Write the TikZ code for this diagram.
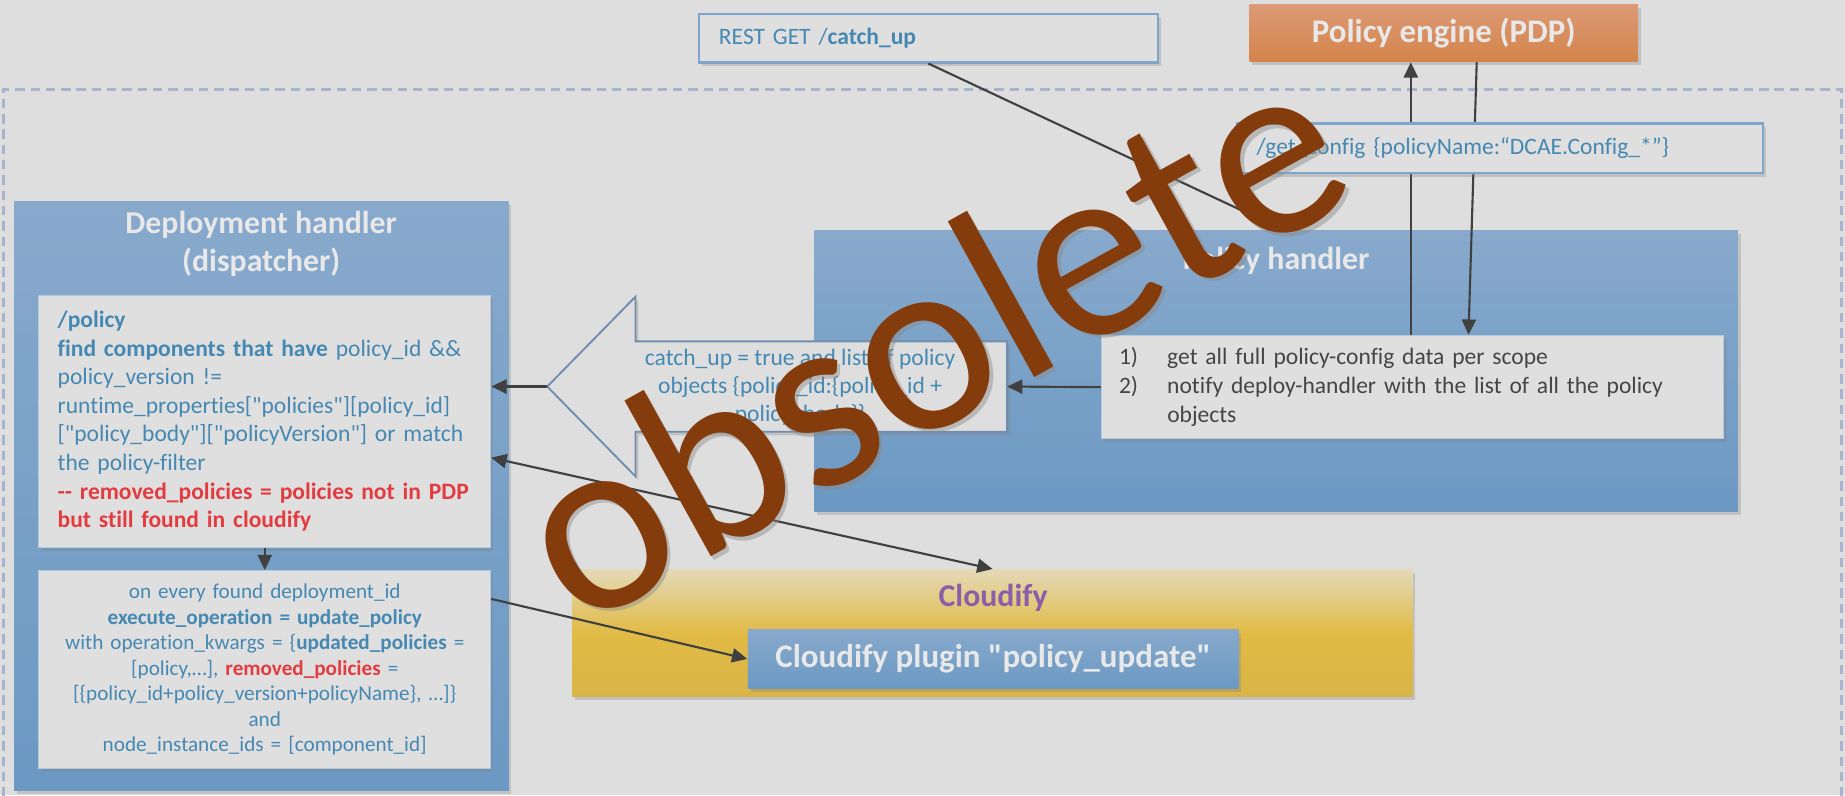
\documentclass[tikz,border=0pt]{standalone}
\usepackage{fontspec}
\setmainfont{Carlito}[Ligatures={TeXOff,CommonOff}]
\usepackage{xcolor}
\usepackage{tikz}
\usetikzlibrary{arrows.meta, shadows}

\definecolor{bggray}{HTML}{DFDEDF}
\definecolor{boxgray}{HTML}{E0DFE0}
\definecolor{bluetop}{HTML}{88A9CC}
\definecolor{bluebot}{HTML}{6B99C3}
\definecolor{txtblue}{HTML}{4588B2}
\definecolor{txtred}{HTML}{E23B40}
\definecolor{txtdark}{HTML}{454545}
\definecolor{titlegray}{HTML}{E8E8E8}
\definecolor{edgeblue}{HTML}{7FA5CC}
\definecolor{calloutedge}{HTML}{6F8EAD}
\definecolor{framedash}{HTML}{A8B3CE}
\definecolor{pdptop}{HTML}{DC9A76}
\definecolor{pdpbot}{HTML}{D4844A}
\definecolor{cfytop}{HTML}{E4D9B8}
\definecolor{cfymid}{HTML}{E1BB45}
\definecolor{cfybot}{HTML}{D9B447}
\definecolor{cfypurple}{HTML}{8C5EAA}
\definecolor{stampbrown}{HTML}{843C0C}
\definecolor{stampshade}{HTML}{8A8A8A}
\definecolor{linegray}{HTML}{404040}

\begin{document}
\begin{tikzpicture}[x=0.5pt, y=-0.5pt]
\tikzstyle{shade}=[drop shadow={shadow xshift=1.2pt, shadow yshift=-1.5pt, opacity=.3}]
\tikzstyle{bluebox}=[shade, top color=bluetop, bottom color=bluebot, draw=none, inner sep=0pt]
\tikzstyle{notebox}=[shade, fill=boxgray, draw=edgeblue!60, line width=.5pt, inner sep=0pt]
\tikzstyle{callbox}=[shade, fill=boxgray, draw=edgeblue, line width=1pt, inner sep=0pt]
\tikzstyle{title}=[text=titlegray, font=\fontsize{13.5}{16.25}\selectfont\bfseries, align=center]
\tikzstyle{conn}=[draw=linegray, line width=.9pt]
\tikzstyle{arr}=[conn, -{Triangle[length=6.5pt, width=6pt]}]
\tikzstyle{stamptext}=[rotate=29, anchor=base, font=\fontsize{109}{109}\selectfont]
\useasboundingbox (0,0) rectangle (1568,676);
\clip (0,0) rectangle (1568,676);

\fill[bggray] (0,0) rectangle (1568,676);
\draw[framedash, line width=1pt, dash pattern=on 4pt off 2.5pt] (3,690) -- (3,76) -- (1565,76) -- (1565,690);

\node[bluebox, minimum width=210pt, minimum height=250.5pt] (dh) at (222,421.5) {};
\node[title] (dhtitle) at (222,207) {Deployment handler\\(dispatcher)};
\node[notebox, minimum width=192pt, minimum height=107pt, text width=176pt, align=left,
  text=txtblue, font=\fontsize{10}{12.15}\selectfont] (dhpolicy) at (225,358) {%
{\bfseries /policy}\\
{\bfseries find components that have} policy\_id \&\&\\
policy\_version !=\\
runtime\_properties["policies"][policy\_id]\\
{}["policy\_body"]["policyVersion"] or match\\
the policy-filter\\
{\color{txtred}\bfseries -{}- removed\_policies = policies not in PDP}\\
{\color{txtred}\bfseries but still found in cloudify}};
\node[notebox, minimum width=192pt, minimum height=84pt, text width=186pt, align=center,
  text=txtblue, font=\fontsize{9}{10.8}\selectfont] (dhexec) at (225,569) {%
on every found deployment\_id\\
{\bfseries execute\_operation = update\_policy}\\
with operation\_kwargs = \{{\bfseries updated\_policies} =\\
{}[policy,…], {\color{txtred}\bfseries removed\_policies} =\\
{}[\{policy\_id+policy\_version+policyName\}, …]\}\\
and\\
node\_instance\_ids = [component\_id]};

\node[bluebox, minimum width=392.5pt, minimum height=119.5pt] (ph) at (1084.5,315.5) {};
\node[title] (phtitle) at (1084.5,222) {Policy handler};
\node[notebox, minimum width=264.5pt, minimum height=44pt, text width=249.5pt, align=left,
  text=txtdark, font=\fontsize{10}{12.25}\selectfont] (phsteps) at (1200.5,329) {%
\makebox[20.5pt][l]{1)}get all full policy-config data per scope\\
\makebox[20.5pt][l]{2)}notify deploy-handler with the list of all the policy\\
\hspace*{20.5pt}objects};

\node[shade, top color=pdptop, bottom color=pdpbot, minimum width=165pt, minimum height=24.5pt,
  inner sep=0pt, title, font=\fontsize{14}{16}\selectfont\bfseries] (pdp) at (1227,28) {Policy engine (PDP)};
\node[callbox, minimum width=195pt, minimum height=20.5pt, text width=178pt, align=left,
  text=txtblue, font=\fontsize{10}{12}\selectfont] (rest) at (789,32.5) {REST GET /{\bfseries catch\_up}};
\coordinate (restend) at (1062,182);

\node[shade, top color=cfytop, bottom color=cfybot, middle color=cfymid, minimum width=357pt,
  minimum height=54pt, inner sep=0pt] (cfy) at (843.5,538) {};
\node[text=cfypurple, font=\fontsize{13.5}{16}\selectfont\bfseries] (cfytitle) at (844,508) {Cloudify};
\node[bluebox, minimum width=208.5pt, minimum height=25pt, title, font=\fontsize{14}{16}\selectfont\bfseries]
  (plugin) at (844,560) {Cloudify plugin "policy\_update"};

\node[minimum width=157.5pt, minimum height=38pt, inner sep=0pt] (catchup) at (698,328.5) {};
\draw[shade, fill=bggray, draw=calloutedge, line width=.8pt] (catchup.north east) -- (catchup.north west)
  -- ++(0,19pt) -- ([xshift=-37.5pt]catchup.west) coordinate (cutip) -- ([yshift=-19pt]catchup.south west)
  -- (catchup.south west) -- (catchup.south east) -- cycle;
\node[text=txtblue, align=center, font=\fontsize{10}{12}\selectfont] (cutext) at (680,329) {%
catch\_up = true and list of policy\\
objects \{policy\_id:\{policy\_id +\\
policy\_body\}\}};

\draw[conn] (rest.south) -- (restend);
\draw[arr] ([xshift=-.75pt]phsteps.north) -- ([xshift=-14pt]pdp.south);
\draw[arr] ([xshift=14pt]pdp.south) -- ([xshift=23.75pt]phsteps.north);
\node[callbox, minimum width=223.5pt, minimum height=21pt, text width=207pt, align=left,
  text=txtblue, font=\fontsize{10}{12}\selectfont] (getcfg) at (1275,126) {/get\_config \{policyName:“DCAE.Config\_*”\}};

\draw[arr] (phsteps.west) -- (catchup.east);
\draw[arr] (cutip) -- (cutip -| dhpolicy.east);
\draw[conn, {Triangle[length=6.5pt, width=6pt]}-{Triangle[length=6.5pt, width=6pt]}] ([yshift=-15.5pt]dhpolicy.east) -- (cfy.north);
\draw[arr] ([yshift=30pt]dhexec.east) -- (plugin.west);
\draw[arr] (dhpolicy.south) -- (dhexec.north);

\node[stamptext, text=stampshade, opacity=.45] (stampshadow) at (828,354) {obsolete};
\node[stamptext, text=stampbrown] (stamp) at (825,351) {obsolete};
\end{tikzpicture}
\end{document}
